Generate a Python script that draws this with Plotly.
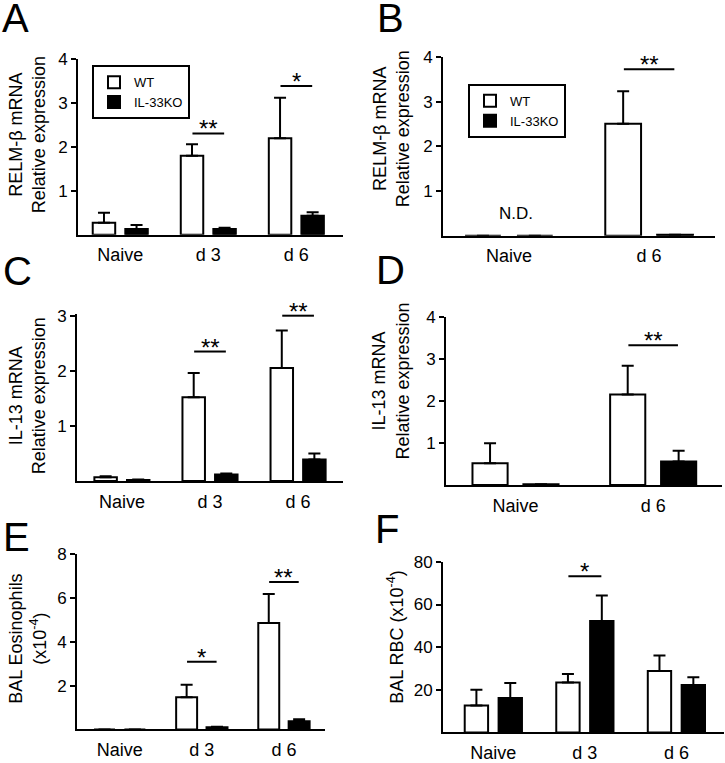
import plotly.graph_objects as go

W, H = 725, 763
FONT = "Liberation Sans, Arial, Helvetica, sans-serif"

# ---------------- data ----------------
cats3 = ["Naive", "d 3", "d 6"]
cats2 = ["Naive", "d 6"]

A_wt = [0.27, 1.80, 2.20]
A_wt_sem = [0.23, 0.26, 0.92]
A_ko = [0.13, 0.13, 0.43]
A_ko_sem = [0.09, 0.03, 0.08]

B_wt = [0.0, 2.51]
B_wt_sem = [0.0, 0.73]
B_ko = [0.0, 0.02]
B_ko_sem = [0.0, 0.0]

C_wt = [0.07, 1.52, 2.05]
C_wt_sem = [0.02, 0.44, 0.68]
C_ko = [0.02, 0.12, 0.39]
C_ko_sem = [0.01, 0.02, 0.11]

D_wt = [0.52, 2.16]
D_wt_sem = [0.48, 0.69]
D_ko = [0.02, 0.56]
D_ko_sem = [0.0, 0.26]

E_wt = [0.0, 1.47, 4.85]
E_wt_sem = [0.0, 0.57, 1.33]
E_ko = [0.0, 0.10, 0.37]
E_ko_sem = [0.0, 0.02, 0.10]

F_wt = [12.6, 23.4, 28.8]
F_wt_sem = [7.4, 4.0, 7.3]
F_ko = [16.2, 52.3, 22.3]
F_ko_sem = [7.0, 11.9, 3.6]

# significance: category index, bar height, label
A_sig = [(1, 2.31, "**"), (2, 3.39, "*")]
B_sig = [(1, 3.73, "**")]
C_sig = [(1, 2.35, "**"), (2, 3.0, "**")]
D_sig = [(1, 3.34, "**")]
E_sig = [(1, 3.09, "*"), (2, 6.72, "**")]
F_sig = [(1, 73.3, "*")]

A_ticks = [1, 2, 3, 4]
B_ticks = [1, 2, 3, 4]
C_ticks = [1, 2, 3]
D_ticks = [1, 2, 3, 4]
E_ticks = [2, 4, 6, 8]
F_ticks = [20, 40, 60, 80]

# ---------------- layout helpers ----------------
def xd(a, b):
    return [a / W, b / W]

def yd(top, bottom):
    return [1 - bottom / H, 1 - top / H]

panels = [
    dict(cats=cats3, wt=A_wt, wts=A_wt_sem, ko=A_ko, kos=A_ko_sem, sig=A_sig, ticks=A_ticks,
         yr=[0, 4], xr=[-0.48, 2.53], xdom=xd(78, 343), ydom=yd(51, 229),
         title="RELM-β mRNA<br>Relative expression", tpos=(27, 128), letter="A", lpos=(15.5, 18), legend="legend"),
    dict(cats=cats2, wt=B_wt, wts=B_wt_sem, ko=B_ko, kos=B_ko_sem, sig=B_sig, ticks=B_ticks,
         yr=[0, 4], xr=[-0.47, 1.47], xdom=xd(443, 715), ydom=yd(49, 230),
         title="RELM-β mRNA<br>Relative expression", tpos=(391, 122), letter="B", lpos=(390, 18), legend="legend2"),
    dict(cats=cats3, wt=C_wt, wts=C_wt_sem, ko=C_ko, kos=C_ko_sem, sig=C_sig, ticks=C_ticks,
         yr=[0, 3.03], xr=[-0.51, 2.51], xdom=xd(77, 343), ydom=yd(309.5, 479),
         title="IL-13 mRNA<br>Relative expression", tpos=(27, 393), letter="C", lpos=(17.5, 275), legend=None),
    dict(cats=cats2, wt=D_wt, wts=D_wt_sem, ko=D_ko, kos=D_ko_sem, sig=D_sig, ticks=D_ticks,
         yr=[0, 4], xr=[-0.505, 1.5], xdom=xd(446, 722), ydom=yd(313, 483),
         title="IL-13 mRNA<br>Relative expression", tpos=(391, 378), letter="D", lpos=(390, 274), legend=None),
    dict(cats=cats3, wt=E_wt, wts=E_wt_sem, ko=E_ko, kos=E_ko_sem, sig=E_sig, ticks=E_ticks,
         yr=[0, 8], xr=[-0.52, 2.5], xdom=xd(77, 325), ydom=yd(553, 731),
         title="BAL Eosinophils<br>(x10<sup>-4</sup>)", tpos=(28, 639), letter="E", lpos=(16.5, 544.5), legend=None),
    dict(cats=cats3, wt=F_wt, wts=F_wt_sem, ko=F_ko, kos=F_ko_sem, sig=F_sig, ticks=F_ticks,
         yr=[0, 80], xr=[-0.55, 2.52], xdom=xd(443, 724), ydom=yd(561, 734),
         title="BAL RBC (x10<sup>-4</sup>)", tpos=(396, 637), letter="F", lpos=(387, 536.5), legend=None),
]

fig = go.Figure()
shapes = []
annotations = []
layout = {}

for i, p in enumerate(panels):
    n = i + 1
    xa = "x" if n == 1 else f"x{n}"
    ya = "y" if n == 1 else f"y{n}"
    xk = "xaxis" if n == 1 else f"xaxis{n}"
    yk = "yaxis" if n == 1 else f"yaxis{n}"
    for name, vals, sem, fill in [("WT", p["wt"], p["wts"], "white"),
                                  ("IL-33KO", p["ko"], p["kos"], "black")]:
        fig.add_trace(go.Bar(
            x=p["cats"], y=vals, name=name, xaxis=xa, yaxis=ya,
            marker=dict(color=fill, line=dict(color="black", width=2)),
            error_y=dict(type="data", symmetric=False, array=sem,
                         arrayminus=[0] * len(sem), thickness=2, width=6, color="black"),
            showlegend=p["legend"] is not None,
            legend=p["legend"] if p["legend"] else "legend",
            hoverinfo="skip",
        ))
    layout[xk] = dict(domain=p["xdom"], anchor=ya, type="category",
                      categoryorder="array", categoryarray=p["cats"],
                      range=p["xr"], showline=True, linewidth=2, linecolor="black",
                      ticks="outside", ticklen=0, tickcolor="white",
                      ticklabelstandoff=3,
                      tickfont=dict(size=18, color="black", family=FONT),
                      showgrid=False, zeroline=False, fixedrange=True)
    layout[yk] = dict(domain=p["ydom"], anchor=xa, range=p["yr"],
                      tickmode="array", tickvals=p["ticks"],
                      showline=True, linewidth=2, linecolor="black",
                      ticks="outside", ticklen=5, tickwidth=2, tickcolor="black",
                      tickfont=dict(size=17, color="black", family=FONT),
                      showgrid=False, zeroline=False, fixedrange=True)
    for (c, yv, lab) in p["sig"]:
        shapes.append(dict(type="line", xref=xa, yref=ya, x0=c - 0.18, x1=c + 0.18,
                           y0=yv, y1=yv, line=dict(color="black", width=2)))
        annotations.append(dict(xref=xa, yref=ya, x=c, y=yv, text=lab, showarrow=False,
                                yanchor="bottom", yshift=-11,
                                font=dict(size=24, color="black", family=FONT)))
    tx, ty = p["tpos"]
    annotations.append(dict(xref="paper", yref="paper", x=tx / W, y=1 - ty / H,
                            text=p["title"], showarrow=False, textangle=-90,
                            xanchor="center", yanchor="middle",
                            font=dict(size=18, color="black", family=FONT)))
    lx, ly = p["lpos"]
    annotations.append(dict(xref="paper", yref="paper", x=lx / W, y=1 - ly / H,
                            text=p["letter"], showarrow=False,
                            xanchor="center", yanchor="middle", yshift=9,
                            font=dict(size=40, color="black", family=FONT)))

# N.D. label in panel B
annotations.append(dict(xref="x2", yref="y2", x=0, y=0.5, xshift=7, text="N.D.",
                        showarrow=False, yanchor="middle",
                        font=dict(size=17, color="black", family=FONT)))

legend_style = dict(bordercolor="black", borderwidth=2, bgcolor="white",
                    font=dict(size=13, color="black", family=FONT),
                    xanchor="left", yanchor="top", tracegroupgap=0, itemwidth=30)

fig.update_layout(
    width=W, height=H, margin=dict(l=0, r=0, t=0, b=0),
    paper_bgcolor="white", plot_bgcolor="white",
    barmode="group", bargap=0.26, bargroupgap=0.31,
    font=dict(family=FONT, color="black"),
    shapes=shapes, annotations=annotations,
    legend=dict(x=92 / W, y=1 - 57 / H, **legend_style),
    legend2=dict(x=468 / W, y=1 - 76 / H, **legend_style),
    hovermode=False,
    **layout,
)

fig.write_html("out.html", config={"displayModeBar": False},
               post_script="document.body.style.margin='0px';")
